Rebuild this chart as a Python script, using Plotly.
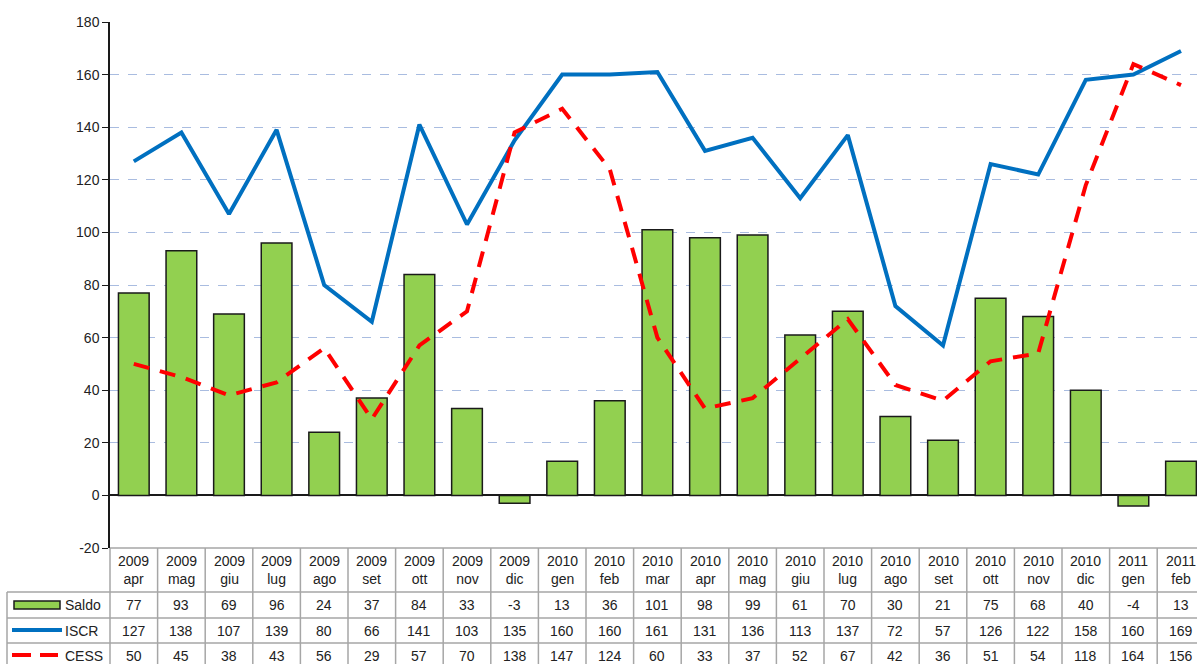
import plotly.graph_objects as go

years = ["2009"] * 9 + ["2010"] * 12 + ["2011"] * 2
months = ["apr", "mag", "giu", "lug", "ago", "set", "ott", "nov", "dic",
          "gen", "feb", "mar", "apr", "mag", "giu", "lug", "ago", "set", "ott", "nov", "dic",
          "gen", "feb"]
saldo = [77, 93, 69, 96, 24, 37, 84, 33, -3, 13, 36, 101, 98, 99, 61, 70, 30, 21, 75, 68, 40, -4, 13]
iscr = [127, 138, 107, 139, 80, 66, 141, 103, 135, 160, 160, 161, 131, 136, 113, 137, 72, 57, 126, 122, 158, 160, 169]
cess = [50, 45, 38, 43, 56, 29, 57, 70, 138, 147, 124, 60, 33, 37, 52, 67, 42, 36, 51, 54, 118, 164, 156]
y_ticks = [-20, 0, 20, 40, 60, 80, 100, 120, 140, 160, 180]

W, H = 1197, 664
L, T, B = 110, 22, 116
PLOT_BOTTOM = H - B
PLOT_H = PLOT_BOTTOM - T
PLOT_W = W - L

def py(Y):
    return (PLOT_BOTTOM - Y) / PLOT_H

def pxp(X):
    return (X - L) / PLOT_W

n = len(months)
xs = list(range(n))
GREEN = "#92D050"
BLUE = "#0070C0"
RED = "#FF0000"
GRID = "#A9BCE0"
TBL = "#A6A6A6"
FONT = "Liberation Sans, Arial, sans-serif"

fig = go.Figure()
fig.add_trace(go.Bar(x=xs, y=saldo, name="Saldo", width=0.645,
                     marker=dict(color=GREEN, line=dict(color="#1a1a1a", width=1.5))))
fig.add_trace(go.Scatter(x=xs, y=iscr, name="ISCR", mode="lines",
                         line=dict(color=BLUE, width=4)))
fig.add_trace(go.Scatter(x=xs, y=cess, name="CESS", mode="lines",
                         line=dict(color=RED, width=4, dash="16px,11px")))

shapes = []
annotations = []

rows = [("Saldo", saldo, 592, 618), ("ISCR", iscr, 618, 643), ("CESS", cess, 643, 668)]

shapes.append(dict(type="line", xref="paper", yref="paper", x0=0, x1=1.02,
                   y0=py(548), y1=py(548), line=dict(color=TBL, width=1.5)))
for _, _, y0, y1 in rows:
    shapes.append(dict(type="line", xref="paper", yref="paper", x0=pxp(7), x1=1.02,
                       y0=py(y0), y1=py(y0), line=dict(color=TBL, width=1.5)))
shapes.append(dict(type="line", xref="paper", yref="paper", x0=0, x1=0,
                   y0=py(548), y1=py(670), line=dict(color=TBL, width=1.5)))
shapes.append(dict(type="line", xref="paper", yref="paper", x0=pxp(7), x1=pxp(7),
                   y0=py(592), y1=py(670), line=dict(color=TBL, width=1.5)))
for i in range(n):
    shapes.append(dict(type="line", xref="x", yref="paper", x0=i + 0.5, x1=i + 0.5,
                       y0=py(548), y1=py(670), line=dict(color=TBL, width=1.5)))

for i in range(n):
    annotations.append(dict(x=i, y=py(570), xref="x", yref="paper", showarrow=False,
                            text=f"{years[i]}<br>{months[i]}", align="center",
                            font=dict(family=FONT, size=14, color="#222"),
                            xanchor="center", yanchor="middle"))
for name, vals, y0, y1 in rows:
    yc = py((y0 + y1) / 2)
    for i, v in enumerate(vals):
        annotations.append(dict(x=i, y=yc, xref="x", yref="paper", showarrow=False,
                                text=str(v), font=dict(family=FONT, size=14, color="#222"),
                                xanchor="center", yanchor="middle"))
    annotations.append(dict(x=pxp(63), y=yc, xref="paper", yref="paper", showarrow=False,
                            text=name, font=dict(family=FONT, size=14, color="#222"),
                            xanchor="left", yanchor="middle"))

shapes.append(dict(type="rect", xref="paper", yref="paper", x0=pxp(14), x1=pxp(60),
                   y0=py(609), y1=py(601), fillcolor=GREEN, line=dict(color="#1a1a1a", width=1.5)))
shapes.append(dict(type="line", xref="paper", yref="paper", x0=pxp(12), x1=pxp(62),
                   y0=py(630), y1=py(630), line=dict(color=BLUE, width=4)))
shapes.append(dict(type="line", xref="paper", yref="paper", x0=pxp(12), x1=pxp(58),
                   y0=py(655), y1=py(655), line=dict(color=RED, width=4, dash="19px,9px")))

fig.update_layout(
    width=W, height=H,
    margin=dict(l=L, r=0, t=T, b=B),
    plot_bgcolor="white", paper_bgcolor="white",
    showlegend=False,
    shapes=shapes, annotations=annotations,
    font=dict(family=FONT, size=14, color="#222"),
    xaxis=dict(range=[-0.5, (W - L) / 47.6 - 0.5], showticklabels=False, showgrid=False,
               zeroline=False, showline=False, ticks=""),
    yaxis=dict(range=[-20, 180], tickvals=y_ticks, ticktext=[str(v) for v in y_ticks],
               showgrid=True, gridcolor=GRID,
               griddash="dash", gridwidth=1, zeroline=True, zerolinecolor="#1a1a1a",
               zerolinewidth=1.5, showline=True, linecolor="#1a1a1a", linewidth=1.5,
               ticks="outside", ticklen=6, tickcolor="#1a1a1a",
               tickfont=dict(family=FONT, size=14, color="#222")),
)

fig.write_html("out.html", config={"displayModeBar": False},
               post_script="document.body.style.margin='0';document.body.style.overflow='hidden';")
